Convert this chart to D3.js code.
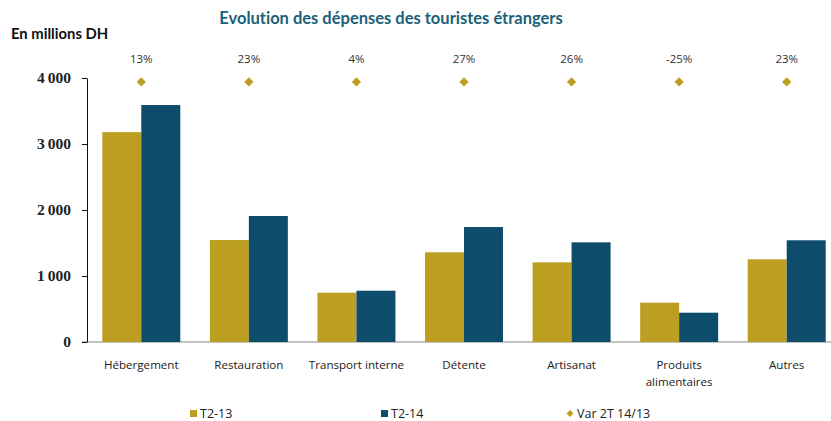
<!DOCTYPE html>
<html><head><meta charset="utf-8">
<script src="https://cdn.jsdelivr.net/npm/d3@7"></script>
<style>body{margin:0;background:#fff}svg{display:block}text{font-variant-ligatures:none}</style>
</head><body><svg id="c" width="831" height="421"></svg>
<script>
const categories = [["Hébergement"],["Restauration"],["Transport interne"],["Détente"],["Artisanat"],["Produits","alimentaires"],["Autres"]];
const t213 = [3180, 1545, 747, 1359, 1207, 596, 1253];
const t214 = [3590, 1909, 777, 1742, 1510, 444, 1541];
const varPct = ["13%","23%","4%","27%","26%","-25%","23%"];
const yTicks = [0, 1000, 2000, 3000, 4000];
const seriesNames = ["T2-13","T2-14","Var 2T 14/13"];
const colors = {gold:"#BC9F20", blue:"#0D4D6B", title:"#1A6078"};

const svg = d3.select("#c");
const x = d3.scaleBand().domain(d3.range(categories.length)).range([87.5, 840.5]).paddingInner(0.275).paddingOuter(0.1375);
const xs = d3.scaleBand().domain([0,1]).range([0, x.bandwidth()]);
const y = d3.scaleLinear().domain([0, 4000]).range([342, 78]);

svg.append("text").attr("x", 391).attr("y", 24).attr("text-anchor","middle")
  .attr("font-family","Lato").attr("font-weight","bold").attr("font-size",16.5).attr("fill",colors.title)
  .text("Evolution des dépenses des touristes étrangers");
svg.append("text").attr("x", 11).attr("y", 39)
  .attr("font-family","Lato").attr("font-weight","bold").attr("font-size",14.8).attr("fill","#111")
  .text("En millions DH");

// x axis baseline
svg.append("line").attr("x1",82).attr("x2",831).attr("y1",y(0)).attr("y2",y(0)).attr("stroke","#888").attr("stroke-width",1.2);

// y axis
const yAxis = svg.append("g").attr("transform","translate(87,0)")
  .call(d3.axisLeft(y).tickValues(yTicks).tickSize(5).tickSizeOuter(0).tickPadding(11)
    .tickFormat(d => d3.format(",")(d).replace(",", "\u2009")));
yAxis.select(".domain").attr("stroke","#111");
yAxis.selectAll(".tick line").attr("stroke","#111");
yAxis.selectAll("text").attr("font-family","Liberation Serif").attr("font-weight","bold").attr("font-size",15.5).attr("fill","#222");

// bars
const g = svg.append("g");
[t213, t214].forEach((arr, si) => {
  g.selectAll(null).data(arr).join("rect")
    .attr("x",(d,i)=>x(i)+xs(si)).attr("width",xs.bandwidth())
    .attr("y",d=>y(d)).attr("height",d=>y(0)-y(d))
    .attr("fill", si===0?colors.gold:colors.blue);
});

// variation diamonds (placed on a fixed line above the bars)
const diamondLevel = 3940;
const sym = d3.symbol().type(d3.symbolDiamond2).size(55);
svg.selectAll(".dia").data(varPct).join("path")
  .attr("transform",(d,i)=>`translate(${x(i)+x.bandwidth()/2},${y(diamondLevel)})`)
  .attr("d", sym).attr("fill", colors.gold);
svg.selectAll(".pct").data(varPct).join("text")
  .attr("x",(d,i)=>x(i)+x.bandwidth()/2).attr("y", 63).attr("text-anchor","middle")
  .attr("font-family","Open Sans").attr("font-size",11.5).attr("fill","#333").text(d=>d);

// category labels
const cl = svg.selectAll(".cat").data(categories).join("text")
  .attr("x",(d,i)=>x(i)+x.bandwidth()/2).attr("y", 369).attr("text-anchor","middle")
  .attr("font-family","Open Sans").attr("font-size",11.6).attr("fill","#222");
cl.each(function(d,i){
  const t = d3.select(this);
  d.forEach((line,k)=> t.append("tspan").attr("x", x(i)+x.bandwidth()/2).attr("dy", k?17:0).text(line));
});

// legend
const lg = svg.append("g").attr("font-family","Open Sans").attr("font-size",12.5).attr("fill","#222");
const legX = [190, 381, 570];
lg.append("rect").attr("x",legX[0]).attr("y",410).attr("width",7).attr("height",7).attr("fill",colors.gold);
lg.append("rect").attr("x",legX[1]).attr("y",410).attr("width",7).attr("height",7).attr("fill",colors.blue);
lg.append("path").attr("transform",`translate(${legX[2]},413.5)`).attr("d", d3.symbol().type(d3.symbolDiamond2).size(30)).attr("fill",colors.gold);
seriesNames.forEach((s,i)=> lg.append("text").attr("x", legX[i] + (i<2?10:7)).attr("y",418).text(s));
</script></body></html>
